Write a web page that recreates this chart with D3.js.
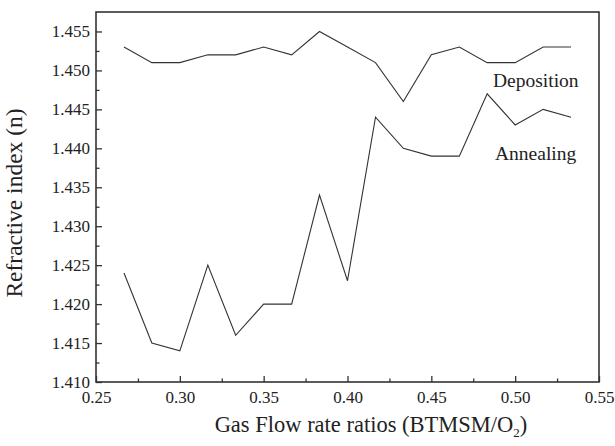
<!DOCTYPE html>
<html>
<head>
<meta charset="utf-8">
<script src="https://cdn.jsdelivr.net/npm/d3@7"></script>
<style>
  body { margin: 0; background: #fff; overflow: hidden; }
  svg { display: block; }
  svg text { font-family: "Liberation Serif", "Times New Roman", serif; fill: #222; }
</style>
</head>
<body>
<div id="chart"></div>
<script>
// Gas flow ratio (BTMSM/O2) for each sample
const ratios = [0.2667, 0.2833, 0.3000, 0.3167, 0.3333, 0.3500, 0.3667, 0.3833, 0.4000,
  0.4167, 0.4333, 0.4500, 0.4667, 0.4833, 0.5000, 0.5167, 0.5333];
const deposition = [1.453, 1.451, 1.451, 1.452, 1.452, 1.453, 1.452, 1.455, 1.453,
  1.451, 1.446, 1.452, 1.453, 1.451, 1.451, 1.453, 1.453];
const annealing = [1.424, 1.415, 1.414, 1.425, 1.416, 1.420, 1.420, 1.434, 1.423,
  1.444, 1.440, 1.439, 1.439, 1.447, 1.443, 1.445, 1.444];
const xTicks = [0.25, 0.30, 0.35, 0.40, 0.45, 0.50, 0.55];
const yTicks = [1.410, 1.415, 1.420, 1.425, 1.430, 1.435, 1.440, 1.445, 1.450, 1.455];

const width = 615, height = 446;
const margin = { top: 12, right: 16, bottom: 64, left: 96 };
const innerWidth = width - margin.left - margin.right;
const innerHeight = height - margin.top - margin.bottom;
const serif = '"Liberation Serif", "Times New Roman", serif';

const svg = d3.select('#chart').append('svg')
  .attr('width', width)
  .attr('height', height)
  .attr('font-family', serif);

const g = svg.append('g')
  .attr('transform', `translate(${margin.left},${margin.top})`);

const x = d3.scaleLinear().domain([0.25, 0.55]).range([0, innerWidth]);
const y = d3.scaleLinear().domain([1.410, 1.4575]).range([innerHeight, 0]);

// minor ticks (inward)
const xMinor = d3.range(0.275, 0.55, 0.05);
const yMinor = d3.range(1.4125, 1.456, 0.005);

g.append('g')
  .attr('transform', `translate(0,${innerHeight})`)
  .call(d3.axisBottom(x).tickValues(xMinor).tickSize(-3.5).tickFormat(''))
  .call(a => a.select('.domain').remove())
  .call(a => a.selectAll('text').remove());
g.append('g')
  .call(d3.axisLeft(y).tickValues(yMinor).tickSize(-3.5).tickFormat(''))
  .call(a => a.select('.domain').remove())
  .call(a => a.selectAll('text').remove());

// major axes
const xAxis = g.append('g')
  .attr('transform', `translate(0,${innerHeight})`)
  .call(d3.axisBottom(x).tickValues(xTicks).tickSize(-6).tickPadding(9).tickFormat(d3.format('.2f')));
const yAxis = g.append('g')
  .call(d3.axisLeft(y).tickValues(yTicks).tickSize(-6).tickPadding(6).tickFormat(d3.format('.3f')));

[xAxis, yAxis].forEach(a => {
  a.select('.domain').remove();
  a.attr('font-family', serif).attr('font-size', 17);
  a.selectAll('text').attr('fill', '#222');
});
g.selectAll('.tick line').attr('stroke', '#333').attr('stroke-width', 1.3);

// frame
g.append('rect')
  .attr('width', innerWidth)
  .attr('height', innerHeight)
  .attr('fill', 'none')
  .attr('stroke', '#333')
  .attr('stroke-width', 1.6);

const line = d3.line()
  .x(d => x(d[0]))
  .y(d => y(d[1]));

[deposition, annealing].forEach(series => {
  g.append('path')
    .datum(d3.zip(ratios, series))
    .attr('fill', 'none')
    .attr('stroke', '#333')
    .attr('stroke-width', 1.1)
    .attr('d', line);
});

// series labels
g.append('text')
  .attr('x', x(0.4868))
  .attr('y', y(1.4479))
  .attr('font-size', 19.5)
  .text('Deposition');
g.append('text')
  .attr('x', x(0.488))
  .attr('y', y(1.4385))
  .attr('font-size', 19.5)
  .text('Annealing');

// axis titles
const xt = svg.append('text')
  .attr('x', 371)
  .attr('y', 432)
  .attr('text-anchor', 'middle')
  .attr('font-size', 22.5);
xt.append('tspan').text('Gas Flow rate ratios (BTMSM/O');
xt.append('tspan').attr('dy', 5).attr('font-size', 13).text('2');
xt.append('tspan').attr('dy', -5).text(')');

svg.append('text')
  .attr('transform', 'translate(22,203) rotate(-90)')
  .attr('text-anchor', 'middle')
  .attr('font-size', 23.5)
  .text('Refractive index (n)');
</script>
</body>
</html>
